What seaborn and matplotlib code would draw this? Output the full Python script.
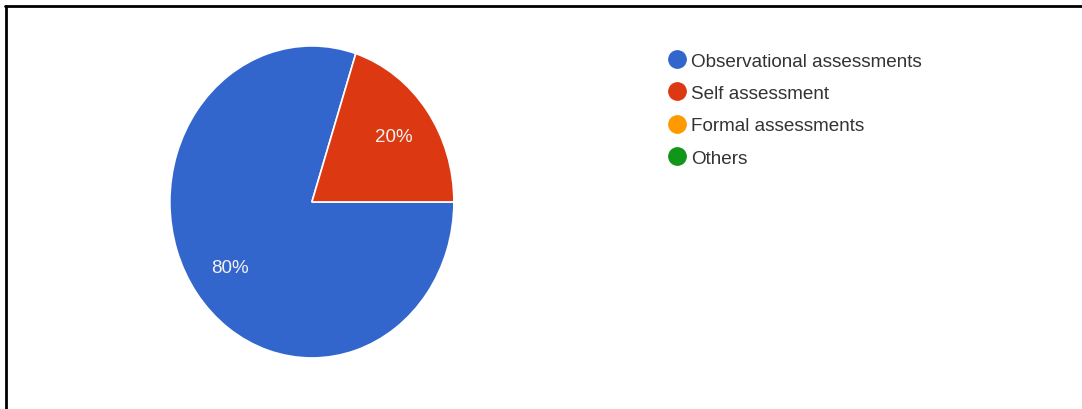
import matplotlib
matplotlib.use("Agg")
import matplotlib.pyplot as plt
from matplotlib.lines import Line2D
import seaborn as sns

categories = ["Observational assessments", "Self assessment", "Formal assessments", "Others"]
values = [80, 20, 0, 0]
colors = ["#3366cc", "#dc3912", "#ff9900", "#109618"]

sns.set_theme(style="white")
plt.rcParams["font.family"] = ["Liberation Sans", "DejaVu Sans"]

fig = plt.figure(figsize=(10.82, 4.10), dpi=100)
ax = fig.add_axes([0.157, 0.1245, 0.2625, 0.761])

pal = sns.color_palette(colors)
nz = [i for i, v in enumerate(values) if v > 0]
wedges, texts, autotexts = ax.pie(
    [values[i] for i in nz],
    colors=[pal[i] for i in nz],
    startangle=72,
    counterclock=True,
    autopct="%d%%",
    pctdistance=0.71,
    wedgeprops=dict(edgecolor="white", linewidth=1.2),
    textprops=dict(color="#f2f2f2", fontsize=13.5),
)
ax.set_aspect("auto")
ax.set_xlim(-1, 1)
ax.set_ylim(-1, 1)

handles = [Line2D([0], [0], marker="o", linestyle="", markersize=12.5,
                  markerfacecolor=c, markeredgecolor=c) for c in colors]
leg = fig.legend(handles, categories, loc="upper left",
                 bbox_to_anchor=(0.608, 0.888), frameon=False,
                 fontsize=13.6, labelspacing=0.8, handletextpad=0.15,
                 handlelength=1.2, borderaxespad=0)
for t in leg.get_texts():
    t.set_color("#333333")

# frame lines of the screenshot
fig.add_artist(Line2D([0.005, 1.0], [1 - 6.5 / 410, 1 - 6.5 / 410],
                      transform=fig.transFigure, color="black", linewidth=2))
fig.add_artist(Line2D([0.0055, 0.0055], [0.0, 1 - 6.5 / 410],
                      transform=fig.transFigure, color="black", linewidth=2))

fig.savefig("out.png", dpi=100, facecolor="white")
